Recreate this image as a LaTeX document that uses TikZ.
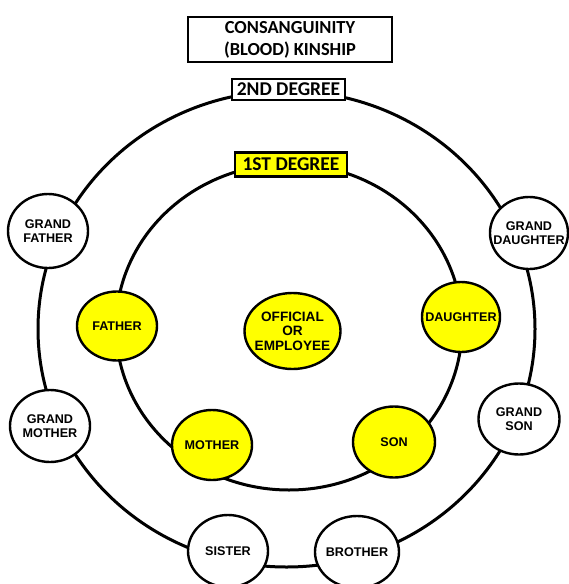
\documentclass[tikz,border=0pt]{standalone}
\usepackage{fontspec}
\usetikzlibrary{shapes.geometric}
\setmainfont{Liberation Sans}
\newfontfamily\titlefont{Carlito}
\definecolor{kyellow}{RGB}{255,255,0}
\newcommand\zw[1]{\makebox[0pt]{#1}}
\begin{document}
\begin{tikzpicture}[x=1pt,y=-1pt,
  ring/.style={line width=3pt},
  rel/.style={ellipse,draw,line width=2.4pt,fill=white,minimum width=81pt,minimum height=71pt,inner sep=0pt,align=center,font=\bfseries\fontsize{12.6}{13.5}\selectfont},
  relY/.style={rel,fill=kyellow},
  lbl/.style={draw,line width=2.6pt,fill=white,font=\titlefont\bfseries\fontsize{19.5}{22}\selectfont,inner sep=0pt}]
\useasboundingbox (0,0) rectangle (569,584);
\fill[white] (0,0) rectangle (569,584);
\draw[ring] (286.5,329) ellipse [x radius=248.5,y radius=238];
\draw[ring] (289,327) ellipse [x radius=173,y radius=163];
\node[lbl,minimum width=204pt,minimum height=45pt,align=center,font=\titlefont\bfseries\fontsize{18.4}{22}\selectfont] (title) at (290,39.5) {CONSANGUINITY\\(BLOOD) KINSHIP};
\node[lbl,minimum width=113pt,minimum height=21pt] (deg2) at (288.5,89.5) {2ND DEGREE};
\node[lbl,fill=kyellow,minimum width=112pt,minimum height=24pt] (deg1) at (291,164.5) {1ST DEGREE};
\node[rel,minimum width=80pt,minimum height=74pt] (gf) at (48,231) {\zw{GRAND}\\\zw{FATHER}};
\node[rel,minimum width=78pt,minimum height=72pt] (gd) at (529,233) {\zw{GRAND}\\\zw{DAUGHTER}};
\node[rel,minimum width=80pt,minimum height=72pt] (gm) at (50,426) {\zw{GRAND}\\\zw{MOTHER}};
\node[rel,minimum width=81pt,minimum height=71pt] (gs) at (519,419) {\zw{GRAND}\\\zw{SON}};
\node[rel,minimum width=80pt,minimum height=72pt] (sis) at (228,551) {\zw{SISTER}};
\node[rel,minimum width=84pt,minimum height=72pt] (bro) at (357,552) {\zw{BROTHER}};
\node[relY,minimum width=80pt,minimum height=69pt] (fa) at (117,326) {\zw{FATHER}};
\node[relY,minimum width=78pt,minimum height=70pt] (da) at (461,317) {\zw{DAUGHTER}};
\node[relY,minimum width=80pt,minimum height=70pt] (mo) at (212,445) {\zw{MOTHER}};
\node[relY,minimum width=82pt,minimum height=71pt] (so) at (394,442) {\zw{SON}};
\node[relY,minimum width=96pt,minimum height=76pt,font=\bfseries\fontsize{13.6}{14.5}\selectfont] (emp) at (292.5,331) {\zw{OFFICIAL}\\\zw{OR}\\\zw{EMPLOYEE}};
\end{tikzpicture}
\end{document}
